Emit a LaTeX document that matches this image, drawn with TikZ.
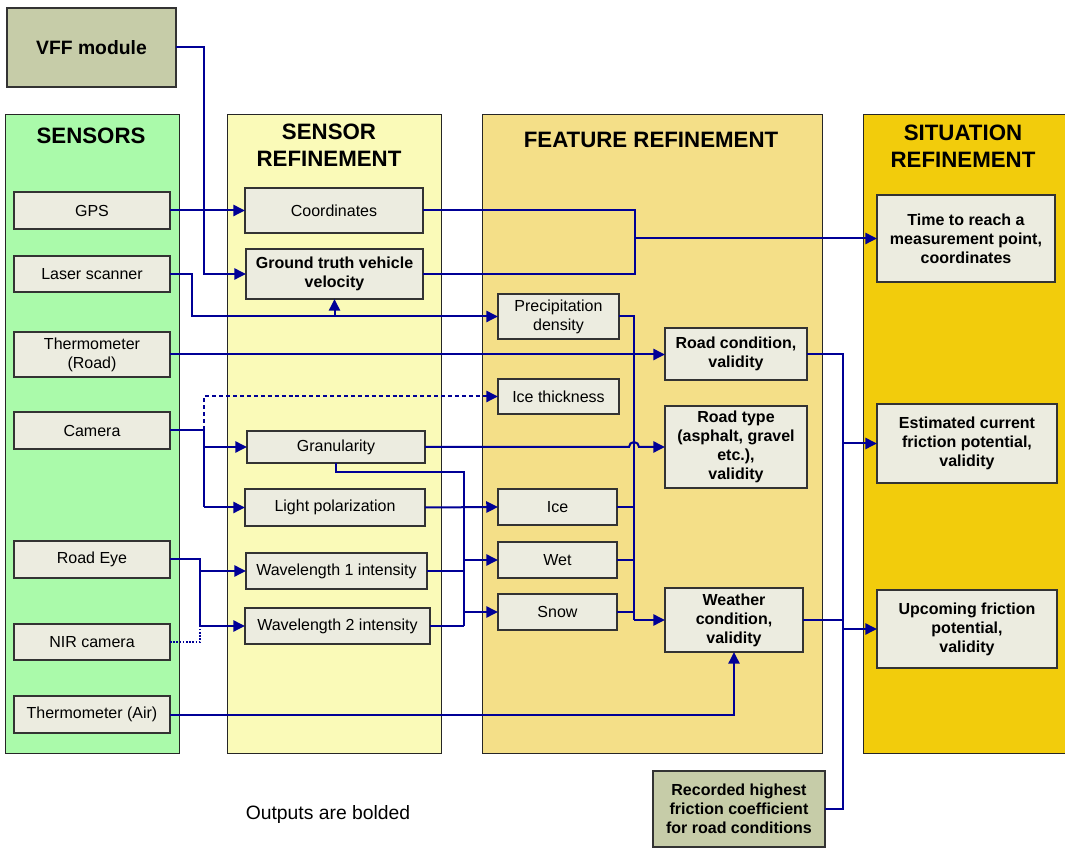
\documentclass[tikz,border=0pt]{standalone}
\usepackage{fontspec}
\setmainfont{Liberation Sans}
\usetikzlibrary{arrows.meta}

\definecolor{sensgreen}{HTML}{AAFAAA}
\definecolor{srefyellow}{HTML}{FAFAB8}
\definecolor{frefyellow}{HTML}{F4DF88}
\definecolor{sitgold}{HTML}{F2CC0C}
\definecolor{boxfill}{HTML}{ECECE0}
\definecolor{olivefill}{HTML}{C6CCA8}
\definecolor{wire}{HTML}{000096}

% box given by its two corners (in px units)
\newcommand\pbox[7]{%
  \node[#2, minimum width={(#5-#3)*0.75pt}, minimum height={(#6-#4)*0.75pt}]
    (#1) at ({(#3+#5)/2},{(#4+#6)/2}) {#7};}

\begin{document}
\begin{tikzpicture}[x=0.75pt,y=-0.75pt,
  panel/.style={draw=black!85, line width=0.7pt, inner sep=0pt, outer sep=0pt},
  item/.style={draw=black!80, fill=boxfill, line width=0.9pt, inner sep=0pt, outer sep=0pt,
    align=center, font=\fontsize{12pt}{14.25pt}\selectfont},
  outitem/.style={item, font=\fontsize{12pt}{14.25pt}\selectfont\bfseries},
  extitem/.style={item, fill=olivefill, font=\fontsize{12pt}{14.25pt}\selectfont\bfseries},
  head/.style={align=center, font=\fontsize{16.7pt}{20pt}\selectfont\bfseries},
  wireline/.style={draw=wire, line width=1.5pt},
  conn/.style={wireline, -{Triangle[length=8.8pt,width=8.4pt]}},
  dashwire/.style={conn, dash pattern=on 3pt off 2.2pt},
  dotwire/.style={draw=wire, line width=0.9pt, dash pattern=on 1.2pt off 1.2pt}
]
\useasboundingbox (0,0) rectangle (1065,848);
\fill[white] (0,0) rectangle (1065,848);

% column panels
\draw[panel, fill=sensgreen]  (5,114) rectangle (179,753);
\draw[panel, fill=srefyellow] (227,114) rectangle (441,753);
\draw[panel, fill=frefyellow] (482,114) rectangle (822,753);
\draw[panel, fill=sitgold]    (863,114) rectangle (1075,753);

\node[head] (hSens) at (91,136) {SENSORS};
\node[head] (hSRef) at (329,145) {SENSOR\\REFINEMENT};
\node[head] (hFRef) at (651,140) {FEATURE REFINEMENT};
\node[head] (hSit)  at (963,146) {SITUATION\\REFINEMENT};

% external inputs
\pbox{VFF}{extitem, font=\fontsize{14.5pt}{17pt}\selectfont\bfseries}{7}{8}{176}{87}{VFF module}
\pbox{Rec}{extitem}{653}{771}{825}{847}{Recorded highest\\friction coefficient\\for road conditions}

% sensors
\pbox{GPS}{item}{14}{192}{170}{229}{GPS}
\pbox{Laser}{item}{14}{256}{170}{292}{Laser scanner}
\pbox{ThRoad}{item}{14}{332}{170}{377}{Thermometer\\(Road)}
\pbox{Cam}{item}{14}{412}{170}{449}{Camera}
\pbox{REye}{item}{14}{541}{170}{578}{Road Eye}
\pbox{NIR}{item}{14}{624}{170}{660}{NIR camera}
\pbox{ThAir}{item}{14}{696}{170}{733}{Thermometer (Air)}

% sensor refinement
\pbox{Coord}{item}{245}{188}{423}{233}{Coordinates}
\pbox{GTV}{outitem}{246}{249}{423}{299}{Ground truth vehicle\\velocity}
\pbox{Gran}{item}{247}{431}{425}{463}{Granularity}
\pbox{LPol}{item}{245}{489}{425}{526}{Light polarization}
\pbox{WLa}{item}{246}{553}{427}{589}{Wavelength 1 intensity}
\pbox{WLb}{item}{245}{608}{430}{644}{Wavelength 2 intensity}

% feature refinement
\pbox{Prec}{item}{498}{294}{619}{339}{Precipitation\\density}
\pbox{IceT}{item}{498}{379}{619}{414}{Ice thickness}
\pbox{Ice}{item}{498}{489}{617}{525}{Ice}
\pbox{Wet}{item}{498}{542}{617}{578}{Wet}
\pbox{Snow}{item}{498}{594}{617}{630}{Snow}
\pbox{RCond}{outitem}{665}{328}{807}{380}{Road condition,\\validity}
\pbox{RType}{outitem}{665}{406}{807}{488}{Road type\\(asphalt, gravel\\etc.),\\validity}
\pbox{Weath}{outitem}{665}{588}{803}{652}{Weather\\condition,\\validity}

% situation refinement
\pbox{Time}{outitem}{877}{195}{1055}{282}{Time to reach a\\measurement point,\\coordinates}
\pbox{Est}{outitem}{877}{404}{1057}{483}{Estimated current\\friction potential,\\validity}
\pbox{Upc}{outitem}{877}{590}{1057}{668}{Upcoming friction\\potential,\\validity}

\node[font=\fontsize{14.5pt}{17pt}\selectfont] (note) at (328,815) {Outputs are bolded};

% VFF module and GPS into sensor refinement
\draw[conn] (VFF.east) -- (204,47.5) -- (204,274) -- (GTV.west);
\draw[conn] (GPS.east) -- (Coord.west);

% laser scanner
\draw[conn] (Laser.east) -- (192,274) -- (192,316.5) -- (Prec.west);
\draw[conn] (GTV.south |- 0,316.5) -- (GTV.south);

% coordinates and velocity combined
\draw[wireline] (Coord.east) -- (635,210.5) -- (635,274) -- (GTV.east);
\draw[conn] (635,238.5) -- (Time.west);

% road thermometer
\draw[conn] (ThRoad.east) -- (ThRoad.east -| RCond.west);

% camera
\draw[dashwire] (Cam.east) -- (204,430.5) -- (204,396.5) -- (IceT.west);
\draw[wireline] (Cam.east) -- (204,430.5) -- (204,507.5);
\draw[conn] (204,447) -- (Gran.west);
\draw[conn] (204,507.5) -- (LPol.west);

% granularity to road type, hopping over the feature bus
\draw[conn] (Gran.east) -- (629,447) arc[start angle=180, end angle=0, radius=3.75pt] -- (RType.west);
\draw[wireline] (Gran.south) -- (336,472) -- (464,472) -- (464,626);
\draw[conn] (LPol.east) -- (Ice.west);
\draw[wireline] (WLa.east) -- (464,571);
\draw[wireline] (WLb.east) -- (464,626);
\draw[conn] (464,560) -- (Wet.west);
\draw[conn] (464,612) -- (Snow.west);

% road eye and NIR camera
\draw[wireline] (REye.east) -- (200,559.5) -- (200,626);
\draw[conn] (200,571) -- (WLa.west);
\draw[conn] (200,626) -- (WLb.west);
\draw[dotwire] (NIR.east) -- (200,642) -- (200,626);

% air thermometer
\draw[conn] (ThAir.east) -| (Weath.south);

% features into weather condition
\draw[wireline] (Prec.east) -- (634,316.5) -- (634,620);
\draw[wireline] (Ice.east) -- (634,507);
\draw[wireline] (Wet.east) -- (634,560);
\draw[wireline] (Snow.east) -- (634,612);
\draw[conn] (634,620) -- (Weath.west);

% into situation refinement
\draw[wireline] (RCond.east) -- (843,354) -- (843,809) -- (Rec.east);
\draw[wireline] (Weath.east) -- (843,620);
\draw[conn] (843,443.5) -- (Est.west);
\draw[conn] (843,629) -- (Upc.west);
\end{tikzpicture}
\end{document}
